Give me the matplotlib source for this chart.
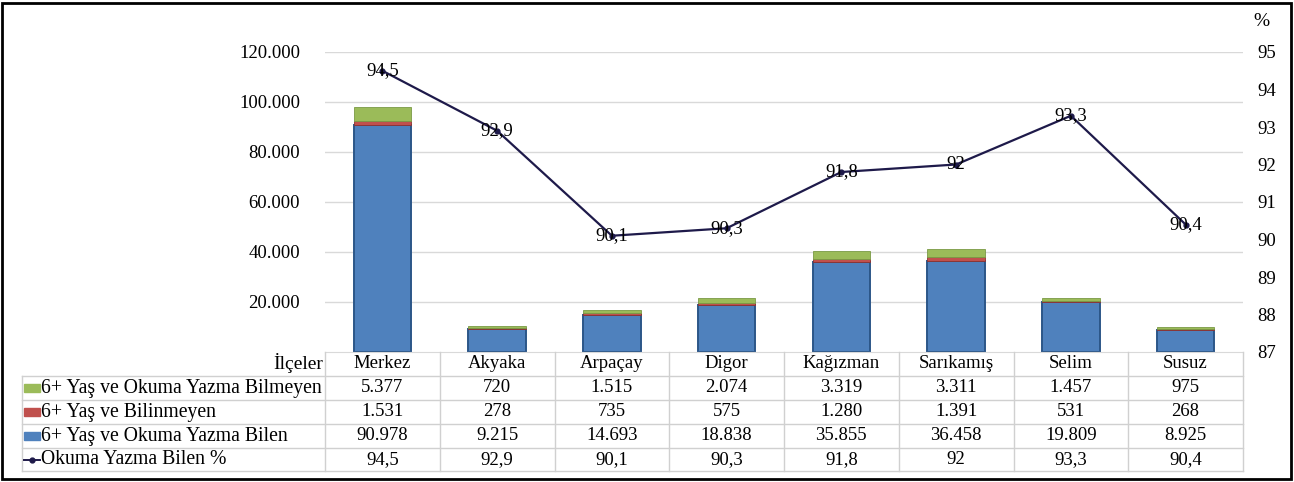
#!/usr/bin/env python3

import matplotlib.pyplot as plt
from matplotlib.patches import Rectangle
from matplotlib.lines import Line2D

districts = ['Merkez', 'Akyaka', 'Arpaçay', 'Digor', 'Kağızman', 'Sarıkamış', 'Selim', 'Susuz']
bilmeyen = [5377, 720, 1515, 2074, 3319, 3311, 1457, 975]
bilinmeyen = [1531, 278, 735, 575, 1280, 1391, 531, 268]
bilen = [90978, 9215, 14693, 18838, 35855, 36458, 19809, 8925]
bilen_pct = [94.5, 92.9, 90.1, 90.3, 91.8, 92, 93.3, 90.4]

row_names = ['6+ Yaş ve Okuma Yazma Bilmeyen', '6+ Yaş ve Bilinmeyen',
             '6+ Yaş ve Okuma Yazma Bilen', 'Okuma Yazma Bilen %']

BLUE, RED, GREEN, LINE = '#4F81BD', '#C0504D', '#9BBB59', '#1E1A4A'
W, H = 1294, 482

plt.rcParams['font.family'] = ['Liberation Serif', 'DejaVu Serif']


def fx(x):
    return x / W


def fy(y):
    return 1 - y / H


def num(v):
    return f'{v:,}'.replace(',', '.')


def pct(v):
    return f'{v:g}'.replace('.', ',')


def main():
    fig = plt.figure(figsize=(W / 100, H / 100), dpi=100)
    ax_l, ax_r, ax_t, ax_b = 325, 1243, 52, 352
    ax = fig.add_axes([fx(ax_l), fy(ax_b), fx(ax_r - ax_l), (ax_b - ax_t) / H])
    x = list(range(len(districts)))

    ax.bar(x, bilen, 0.5, color=BLUE, edgecolor='#2C5688', lw=1.4, zorder=2)
    ax.bar(x, bilinmeyen, 0.5, bottom=bilen, color=RED, edgecolor='#8C3230', lw=0.6, zorder=2)
    b3 = [a + b for a, b in zip(bilen, bilinmeyen)]
    ax.bar(x, bilmeyen, 0.5, bottom=b3, color=GREEN, edgecolor='#7A9A45', lw=0.6, zorder=2)

    ax.set_xlim(-0.5, len(districts) - 0.5)
    ax.set_ylim(0, 120000)
    ax.set_yticks(range(20000, 120001, 20000))
    ax.set_yticklabels([num(v) for v in range(20000, 120001, 20000)], fontsize=13.5)
    ax.set_xticks([])
    ax.tick_params(axis='y', length=0, pad=18)
    ax.grid(axis='y', color='#D9D9D9', lw=1, zorder=0)
    for s in ['top', 'right', 'left']:
        ax.spines[s].set_visible(False)
    ax.spines['bottom'].set_color('#D9D9D9')

    ax2 = ax.twinx()
    ax2.plot(x, bilen_pct, color=LINE, lw=1.6, marker='o', ms=3.5, zorder=3)
    for xi, v in zip(x, bilen_pct):
        ax2.text(xi, v, pct(v), ha='center', va='center', fontsize=13.5, zorder=4)
    ax2.set_ylim(87, 95)
    ax2.set_yticks(range(87, 96))
    ax2.tick_params(axis='y', length=0, labelsize=13.5, pad=10)
    for s in ax2.spines.values():
        s.set_visible(False)
    fig.text(fx(1253), fy(22), '%', fontsize=14, va='center')

    # data table under the chart
    row_lines = [376, 400, 424, 448, 471]
    col_w = (ax_r - ax_l) / len(districts)
    for y in row_lines:
        fig.add_artist(Line2D([fx(22), fx(ax_r)], [fy(y), fy(y)], color='#D0D0D0', lw=1))
    for i in range(len(districts) + 1):
        xl = ax_l + i * col_w
        fig.add_artist(Line2D([fx(xl), fx(xl)], [fy(ax_b), fy(471)], color='#D0D0D0', lw=1))
    fig.add_artist(Line2D([fx(22), fx(22)], [fy(376), fy(471)], color='#D0D0D0', lw=1))

    fig.text(fx(ax_l - 2), fy(363), 'İlçeler', ha='right', va='center', fontsize=14)
    for i, d in enumerate(districts):
        fig.text(fx(ax_l + (i + 0.5) * col_w), fy(363), d, ha='center', va='center', fontsize=13.5)

    rows = [[num(v) for v in bilmeyen], [num(v) for v in bilinmeyen],
            [num(v) for v in bilen], [pct(v) for v in bilen_pct]]
    keys = [GREEN, RED, BLUE, None]
    for r, (name, vals, key) in enumerate(zip(row_names, rows, keys)):
        yc = (row_lines[r] + row_lines[r + 1]) / 2
        if key:
            fig.add_artist(Rectangle((fx(24), fy(yc + 4)), fx(16), 8 / H, color=key))
        else:
            fig.add_artist(Line2D([fx(24), fx(40)], [fy(yc), fy(yc)], color=LINE, lw=1.4))
            fig.add_artist(Line2D([fx(32)], [fy(yc)], color=LINE, marker='o', ms=3.5))
        fig.text(fx(41), fy(yc), name, ha='left', va='center', fontsize=14.2)
        for i, t in enumerate(vals):
            fig.text(fx(ax_l + (i + 0.5) * col_w), fy(yc), t, ha='center', va='center', fontsize=13.5)

    fig.add_artist(Rectangle((fx(2), fy(479)), fx(1289), 476 / H, fill=False,
                             edgecolor='black', lw=2))
    fig.savefig('out.png', dpi=100)
    return 0


if __name__ == "__main__":
    exit(main())
